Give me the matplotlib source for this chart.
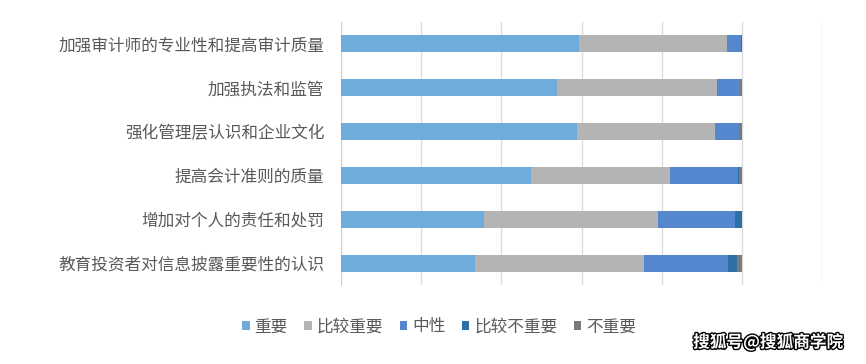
import matplotlib
matplotlib.use("Agg")
import matplotlib.pyplot as plt
import matplotlib.patheffects as pe
from matplotlib.patches import Patch
import numpy as np

plt.rcParams['font.family'] = ['Noto Sans CJK SC', 'DejaVu Sans']

categories = ["加强审计师的专业性和提高审计质量", "加强执法和监管", "强化管理层认识和企业文化",
              "提高会计准则的质量", "增加对个人的责任和处罚", "教育投资者对信息披露重要性的认识"]
series_names = ["重要", "比较重要", "中性", "比较不重要", "不重要"]
important = [59.4, 54.0, 58.8, 47.3, 35.7, 33.4]
fairly_important = [36.9, 39.7, 34.6, 34.8, 43.3, 42.2]
neutral = [3.4, 5.8, 6.0, 17.0, 19.3, 20.9]
fairly_unimportant = [0.3, 0.0, 0.0, 0.2, 1.7, 2.4]
unimportant = [0.0, 0.5, 0.6, 0.7, 0.0, 1.1]
colors = ["#6EACDC", "#B4B4B4", "#5587CE", "#2D70A6", "#7A7A7A"]

fig = plt.figure(figsize=(8.66, 3.64), dpi=100)
ax = fig.add_axes([341/866, 1-285/364, (822-341)/866, (285-22)/364])

y = np.arange(len(categories))
left = np.zeros(len(categories))
all_series = [important, fairly_important, neutral, fairly_unimportant, unimportant]
for vals, c in zip(all_series, colors):
    vals = np.array(vals)
    ax.barh(y, vals, left=left, height=0.39, color=c, edgecolor='none', zorder=3)
    left += vals

ax.set_xlim(0, 120)
ax.set_ylim(len(categories) - 0.5, -0.5)
ax.set_xticks(np.arange(0, 121, 20))
ax.xaxis.grid(True, color='#DCDCDC', linewidth=1.0, zorder=0)
ax.set_xticklabels([])
ax.tick_params(axis='x', length=0)
ax.set_yticks(y)
ax.set_yticklabels(categories, fontsize=12, color='#595959')
ax.tick_params(axis='y', length=0, pad=12)
for s in ['top', 'right', 'bottom']:
    ax.spines[s].set_visible(False)
ax.spines['left'].set_color('#D0D0D0')

handles = [Patch(facecolor=c, edgecolor='none') for c in colors]
fig.legend(handles, series_names, loc='center', bbox_to_anchor=(439/866, 1-327/364),
           ncol=5, frameon=False, fontsize=12, labelcolor='#595959',
           handlelength=0.45, handleheight=0.45, handletextpad=0.3, columnspacing=0.98)

fig.text(768/866, 1-342/364, "搜狐号@搜狐商学院", ha='center', va='center', fontsize=12,
         fontweight='bold', color='white',
         path_effects=[pe.withStroke(linewidth=2, foreground='black')])

fig.savefig("out.png", dpi=100)
